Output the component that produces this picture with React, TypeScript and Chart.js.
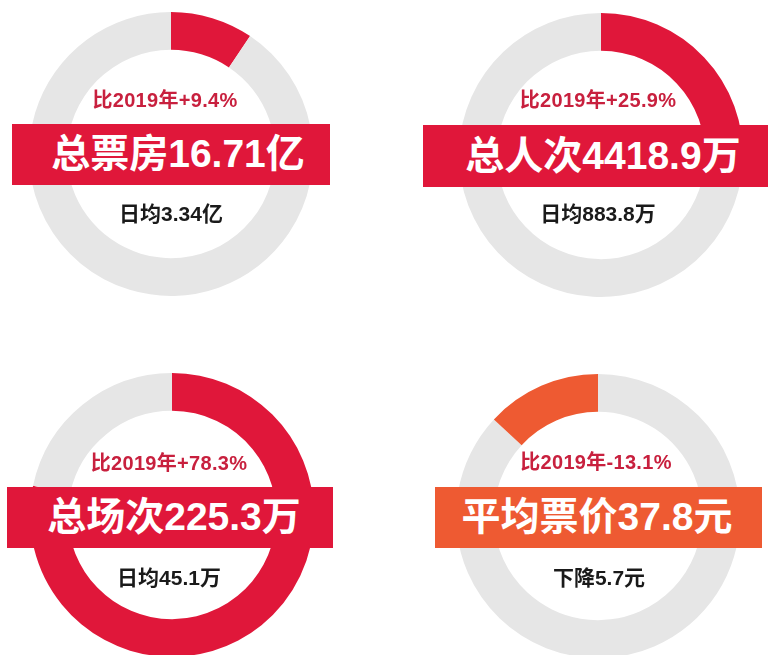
import React, { useEffect, useRef } from "react";
import { Chart, registerables } from "chart.js";

Chart.register(...registerables);

// ---- data ----
const metricNames = ["总票房", "总人次", "总场次", "平均票价"];
const metricValues = ["16.71亿", "4418.9万", "225.3万", "37.8元"];
const changePercents = [9.4, 25.9, 78.3, -13.1];
const changeLabels = ["比2019年+9.4%", "比2019年+25.9%", "比2019年+78.3%", "比2019年-13.1%"];
const subLabels = ["日均3.34亿", "日均883.8万", "日均45.1万", "下降5.7元"];

const RED = "#E0173A";
const ORANGE = "#EE5A32";
const GREY = "#E6E6E6";
const TEXT_RED = "#C8203E";

// layout for each panel (pixel geometry only)
const panels = [
  { cx: 171, cy: 154, banner: { l: 12, t: 124, w: 318, h: 61 }, tx: 178, ty: 153, rx: 165, ry: 100, sx: 171, sy: 213 },
  { cx: 601, cy: 155, banner: { l: 423, t: 125, w: 345, h: 62 }, tx: 603, ty: 155, rx: 598, ry: 100, sx: 598, sy: 213 },
  { cx: 172, cy: 515, banner: { l: 7, t: 487, w: 326, h: 61 }, tx: 174, ty: 516, rx: 169, ry: 463, sx: 169, sy: 577 },
  { cx: 598, cy: 516, banner: { l: 435, t: 487, w: 327, h: 61 }, tx: 597, ty: 516, rx: 596, ry: 462, sx: 599, sy: 577 },
];

const SIZE = 300;
const FONT = '"Liberation Sans", "Noto Sans CJK SC", sans-serif';

function Donut({ pct, cx, cy }: { pct: number; cx: number; cy: number }) {
  const ref = useRef<HTMLCanvasElement | null>(null);
  useEffect(() => {
    if (!ref.current) return;
    const color = pct >= 0 ? RED : ORANGE;
    const abs = Math.abs(pct);
    const data = pct >= 0 ? [abs, 100 - abs] : [100 - abs, abs];
    const colors = pct >= 0 ? [color, GREY] : [GREY, color];
    const chart = new Chart(ref.current, {
      type: "doughnut",
      data: {
        labels: ["a", "b"],
        datasets: [{ data, backgroundColor: colors, borderWidth: 0, hoverOffset: 0 }],
      },
      options: {
        responsive: false,
        animation: false,
        events: [],
        radius: 142,
        cutout: 110,
        layout: { padding: 0 },
        plugins: { legend: { display: false }, tooltip: { enabled: false }, title: { display: false } },
      } as any,
    });
    return () => chart.destroy();
  }, [pct]);
  return (
    <canvas
      ref={ref}
      width={SIZE}
      height={SIZE}
      style={{ position: "absolute", left: cx - SIZE / 2, top: cy - SIZE / 2, width: SIZE, height: SIZE }}
    />
  );
}

function centered(x: number, y: number): React.CSSProperties {
  return {
    position: "absolute",
    left: x,
    top: y,
    transform: "translate(-50%, -50%)",
    whiteSpace: "nowrap",
    lineHeight: 1,
    fontFamily: FONT,
    fontWeight: 700,
  };
}

export default function App() {
  return (
    <div
      style={{
        position: "absolute",
        left: 0,
        top: 0,
        width: 773,
        height: 655,
        overflow: "hidden",
        background: "#FFFFFF",
      }}
    >
      {panels.map((p, i) => {
        const color = changePercents[i] >= 0 ? RED : ORANGE;
        return (
          <React.Fragment key={i}>
            <Donut pct={changePercents[i]} cx={p.cx} cy={p.cy} />
            <div
              style={{
                position: "absolute",
                left: p.banner.l,
                top: p.banner.t,
                width: p.banner.w,
                height: p.banner.h,
                background: color,
              }}
            />
            <div style={{ ...centered(p.tx, p.ty), color: "#FFFFFF", fontSize: 39 }}>
              {metricNames[i] + metricValues[i]}
            </div>
            <div style={{ ...centered(p.rx, p.ry), color: TEXT_RED, fontSize: 20, letterSpacing: 0.3 }}>
              {changeLabels[i]}
            </div>
            <div style={{ ...centered(p.sx, p.sy), color: "#1A1A1A", fontSize: 21 }}>{subLabels[i]}</div>
          </React.Fragment>
        );
      })}
    </div>
  );
}
